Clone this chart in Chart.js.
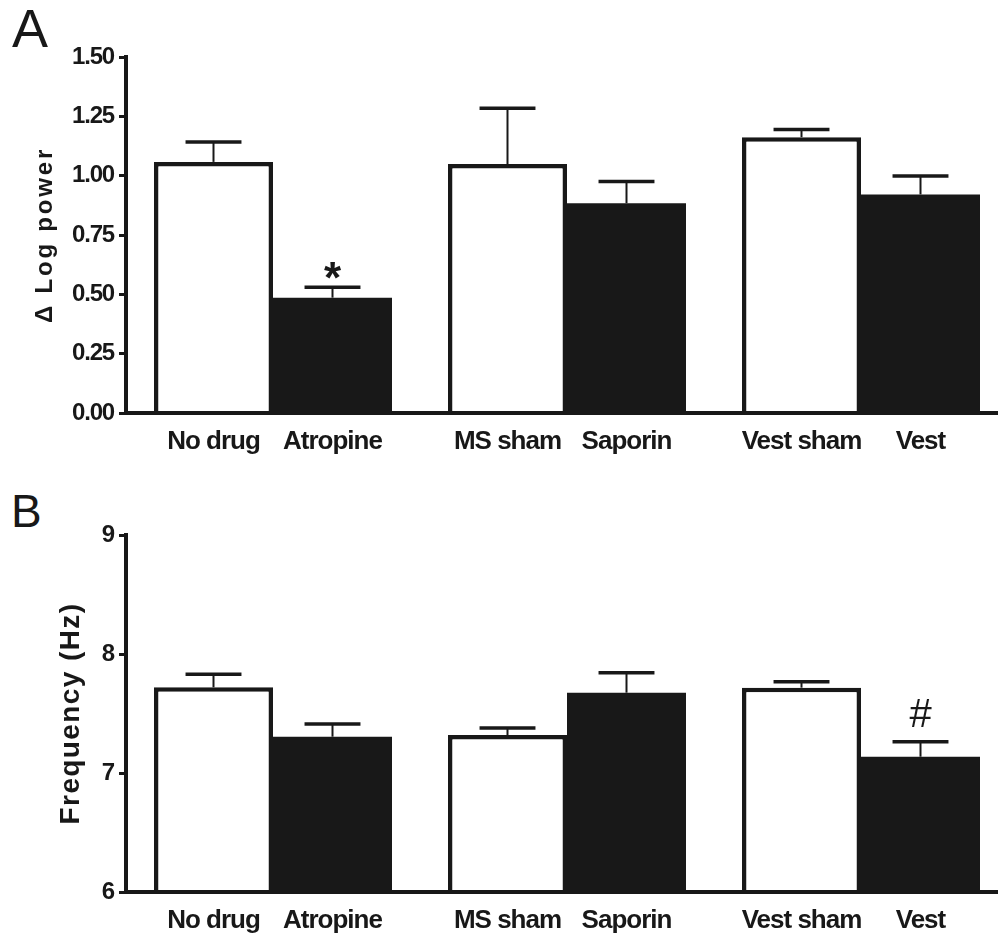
<!DOCTYPE html>
<html>
<head>
<meta charset="utf-8">
<script src="https://cdn.jsdelivr.net/npm/chart.js@4"></script>
<style>
  html, body { margin: 0; padding: 0; background: #fff; overflow: hidden; width: 998px; height: 935px; }
  .panel { position: absolute; font-family: "Liberation Sans", Arial, sans-serif; color: #181818; line-height: 1; font-weight: normal; }
  canvas { position: absolute; left: 0; }
</style>
</head>
<body>
<div class="panel" style="left:12px; top:1px; font-size:54px;">A</div>
<div class="panel" style="left:11px; top:488px; font-size:46px;">B</div>
<canvas id="chartA" width="1008" height="480" style="top:0px;"></canvas>
<canvas id="chartB" width="1008" height="445" style="top:490px;"></canvas>
<script>
// ---------- data ----------
const groups = ['No drug / Atropine', 'MS sham / Saporin', 'Vest sham / Vest'];
const controlLabels = ['No drug', 'MS sham', 'Vest sham'];
const treatedLabels = ['Atropine', 'Saporin', 'Vest'];

// Panel A: delta log power
const powerControl = [1.058, 1.049, 1.162];
const powerControlSem = [0.084, 0.235, 0.032];
const powerTreated = [0.486, 0.884, 0.921];
const powerTreatedSem = [0.044, 0.091, 0.078];
const powerControlMarks = ['', '', ''];
const powerTreatedMarks = ['*', '', ''];
const powerTicks = [0.00, 0.25, 0.50, 0.75, 1.00, 1.25, 1.50];

// Panel B: frequency (Hz)
const freqControl = [7.72, 7.319, 7.717];
const freqControlSem = [0.109, 0.06, 0.05];
const freqTreated = [7.305, 7.675, 7.137];
const freqTreatedSem = [0.107, 0.168, 0.126];
const freqControlMarks = ['', '', ''];
const freqTreatedMarks = ['', '', '#'];
const freqTicks = [6, 7, 8, 9];

// ---------- styling ----------
const INK = '#181818';
const FONT = '"Liberation Sans", Arial, Helvetica, sans-serif';

const errorBarsAndLabels = {
  id: 'errorBarsAndLabels',
  beforeDraw(chart, args, opts) { chart.ctx.letterSpacing = opts.titleSpacing; },
  beforeDatasetsDraw(chart, args, opts) { chart.ctx.letterSpacing = opts.tickSpacing; },
  afterDatasetsDraw(chart, args, opts) {
    const ctx = chart.ctx;
    const yScale = chart.scales.y;
    ctx.save();
    chart.data.datasets.forEach((ds, di) => {
      const meta = chart.getDatasetMeta(di);
      meta.data.forEach((bar, i) => {
        const cx = bar.x;
        const yTop = yScale.getPixelForValue(ds.data[i] + ds.sem[i]);
        const half = bar.width * opts.capRatio / 2;
        ctx.strokeStyle = INK;
        ctx.lineCap = 'butt';
        ctx.lineWidth = 2;
        ctx.beginPath();
        ctx.moveTo(cx, bar.y);
        ctx.lineTo(cx, yTop);
        ctx.stroke();
        ctx.lineWidth = 3.5;
        ctx.beginPath();
        ctx.moveTo(cx - half, yTop);
        ctx.lineTo(cx + half, yTop);
        ctx.stroke();
        ctx.fillStyle = INK;
        ctx.textAlign = 'center';
        ctx.textBaseline = 'alphabetic';
        if (ds.marks[i]) {
          ctx.letterSpacing = '0px';
          ctx.font = opts.markFont;
          ctx.fillText(ds.marks[i], cx, yTop - opts.markGap);
        }
        ctx.letterSpacing = '-1px';
        ctx.font = 'bold 26px ' + FONT;
        ctx.fillText(ds.catLabels[i], cx, chart.chartArea.bottom + 36);
      });
    });
    ctx.restore();
  },
  afterDraw(chart) { chart.ctx.letterSpacing = '0px'; }
};

function makeChart(id, cfg) {
  return new Chart(document.getElementById(id), {
    type: 'bar',
    data: {
      labels: groups,
      datasets: [
        { label: 'control', data: cfg.control, sem: cfg.controlSem, marks: cfg.controlMarks, catLabels: controlLabels,
          backgroundColor: '#ffffff', borderColor: INK, borderWidth: 4.5, borderSkipped: 'start' },
        { label: 'treated', data: cfg.treated, sem: cfg.treatedSem, marks: cfg.treatedMarks, catLabels: treatedLabels,
          backgroundColor: INK, borderWidth: 0 }
      ]
    },
    options: {
      responsive: false,
      animation: false,
      events: [],
      datasets: { bar: { categoryPercentage: 0.8095, barPercentage: 1.0 } },
      layout: { padding: { top: cfg.padTop, bottom: 0, left: 0, right: 0 } },
      plugins: {
        legend: { display: false },
        tooltip: { enabled: false },
        errorBarsAndLabels: {
          capRatio: 0.47, markFont: cfg.markFont, markGap: cfg.markGap,
          titleSpacing: cfg.titleSpacing, tickSpacing: '-1.2px'
        }
      },
      scales: {
        x: {
          type: 'category', offset: true,
          grid: { display: false },
          ticks: { display: false },
          border: { display: true, color: INK, width: 4, z: 1 },
          afterFit(s) { s.height = cfg.xHeight; }
        },
        y: {
          min: cfg.ticks[0], max: cfg.ticks[cfg.ticks.length - 1],
          afterBuildTicks(s) { s.ticks = cfg.ticks.map(v => ({ value: v })); },
          ticks: {
            z: 1, color: INK, padding: 5,
            font: { family: FONT, size: 24, weight: 'bold' },
            callback: cfg.fmt
          },
          grid: { display: true, drawOnChartArea: false, drawTicks: true, tickLength: 7, tickWidth: 3, tickColor: INK, color: INK },
          border: { display: true, color: INK, width: 4, z: 1 },
          title: {
            display: true, text: cfg.title, color: INK,
            font: { family: FONT, size: cfg.titleSize, weight: 'bold' },
            padding: { top: cfg.titlePad, bottom: 0 }
          },
          afterFit(s) { s.width = 126; }
        }
      }
    },
    plugins: [errorBarsAndLabels]
  });
}

makeChart('chartA', {
  control: powerControl, controlSem: powerControlSem, controlMarks: powerControlMarks,
  treated: powerTreated, treatedSem: powerTreatedSem, treatedMarks: powerTreatedMarks,
  ticks: powerTicks, fmt: v => Number(v).toFixed(2),
  title: 'Δ Log power', titleSize: 24, titlePad: 31, titleSpacing: '2.8px',
  padTop: 57, xHeight: 67,
  markFont: 'bold 44px ' + FONT, markGap: -6
});

makeChart('chartB', {
  control: freqControl, controlSem: freqControlSem, controlMarks: freqControlMarks,
  treated: freqTreated, treatedSem: freqTreatedSem, treatedMarks: freqTreatedMarks,
  ticks: freqTicks, fmt: v => String(v),
  title: 'Frequency (Hz)', titleSize: 28, titlePad: 54, titleSpacing: '1.4px',
  padTop: 45, xHeight: 43,
  markFont: 'normal 40px ' + FONT, markGap: 15
});
</script>
</body>
</html>
